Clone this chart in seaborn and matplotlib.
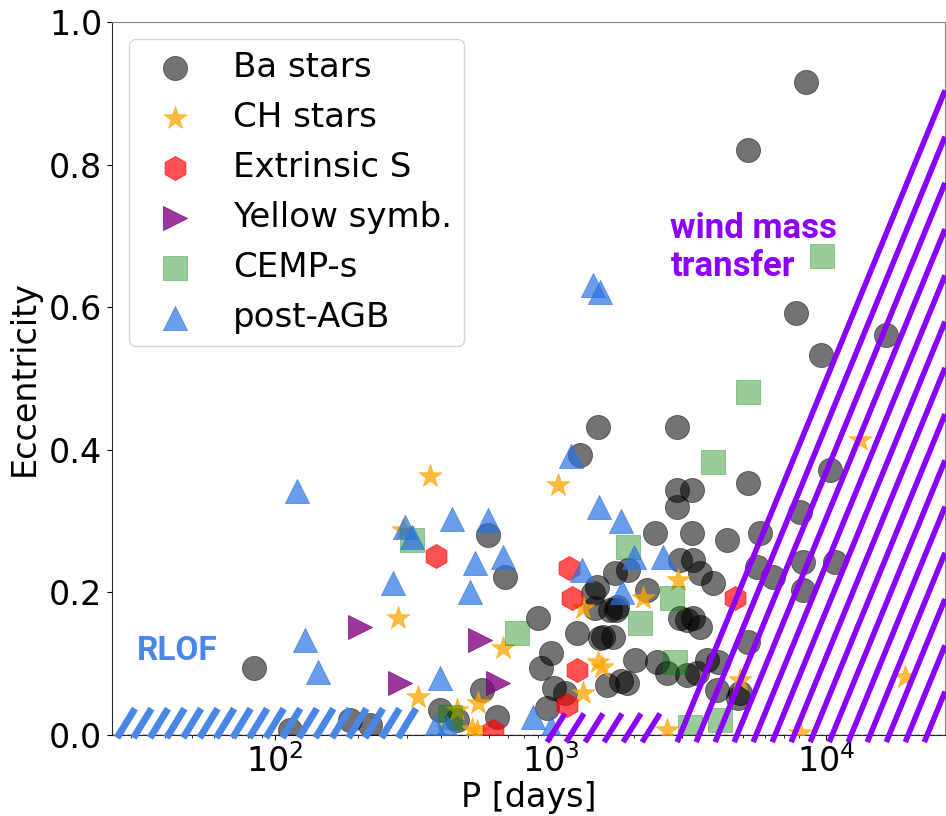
import numpy as np
import pandas as pd
import matplotlib
matplotlib.use("Agg")
import matplotlib.pyplot as plt
import seaborn as sns

# --- data: orbital period [days] and eccentricity ---
ba_P = [84, 113, 187, 221, 397, 458, 563, 593, 640, 685, 902, 920, 1000, 970, 1030,
        1130, 1250, 1280, 1430, 1470, 1486, 1514, 1550, 1690, 1640, 1730, 1600, 1800,
        1900, 1450, 1740, 1715, 1910, 2030, 2240, 2390, 2430, 2650, 3130, 2880, 2880,
        3270, 2880, 3270, 2950, 3280, 2950, 3280, 3130, 3490, 3490, 3890, 3400, 3700,
        4030, 4880, 4790, 4050, 4370, 5750, 5610, 6430, 5200, 5200, 8050, 8250, 10800,
        8250, 10360, 9600, 16500, 7780, 5210, 8450]
ba_e = [0.094, 0.007, 0.021, 0.014, 0.035, 0.021, 0.063, 0.280, 0.025, 0.222, 0.164,
        0.094, 0.115, 0.038, 0.066, 0.059, 0.143, 0.393, 0.199, 0.208, 0.432, 0.136,
        0.137, 0.137, 0.175, 0.175, 0.070, 0.075, 0.073, 0.178, 0.180, 0.227, 0.231,
        0.105, 0.203, 0.283, 0.102, 0.087, 0.084, 0.432, 0.344, 0.344, 0.320, 0.283,
        0.245, 0.245, 0.164, 0.164, 0.161, 0.151, 0.227, 0.213, 0.087, 0.105, 0.063,
        0.059, 0.052, 0.102, 0.274, 0.283, 0.236, 0.222, 0.353, 0.130, 0.313, 0.243,
        0.243, 0.203, 0.372, 0.533, 0.561, 0.592, 0.820, 0.916]

ch_P = [279, 292, 330, 366, 458, 546, 673, 1060, 1310, 1310, 1490, 1530, 2170, 2900,
        4880, 13300, 19400, 8050, 2650, 520, 540]
ch_e = [0.164, 0.288, 0.053, 0.363, 0.035, 0.045, 0.122, 0.350, 0.178, 0.059, 0.102,
        0.096, 0.192, 0.217, 0.077, 0.414, 0.081, 0.003, 0.007, 0.008, 0.006]

exs_P = [384, 1170, 1200, 1250, 1150, 4680, 620]
exs_e = [0.251, 0.234, 0.192, 0.091, 0.042, 0.192, 0.005]

ys_P = [204, 284, 555, 644]
ys_e = [0.151, 0.073, 0.133, 0.073]

cemp_P = [9660, 5210, 3890, 314, 1910, 755, 2110, 2760, 2830, 432, 3210, 4120]
cemp_e = [0.672, 0.481, 0.383, 0.273, 0.264, 0.143, 0.157, 0.192, 0.102, 0.025, 0.011, 0.021]

pagb_P = [120, 1425, 1510, 1185, 297, 314, 439, 593, 268, 530, 673, 511, 128, 143, 397,
          1800, 1500, 2000, 2560, 1300, 1820, 865, 380, 420, 1000]
pagb_e = [0.342, 0.631, 0.621, 0.391, 0.292, 0.278, 0.303, 0.302, 0.213, 0.241, 0.250,
          0.200, 0.133, 0.088, 0.080, 0.300, 0.320, 0.250, 0.250, 0.231, 0.200, 0.025,
          0.011, 0.011, 0.010]

groups = [
    ("Ba stars", ba_P, ba_e, "o", "k", 0.55),
    ("CH stars", ch_P, ch_e, "*", "orange", 0.75),
    ("Extrinsic S", exs_P, exs_e, "h", "red", 0.68),
    ("Yellow symb.", ys_P, ys_e, ">", "purple", 0.78),
    ("CEMP-s", cemp_P, cemp_e, "s", "green", 0.4),
    ("post-AGB", pagb_P, pagb_e, "^", "#2a72e0", 0.7),
]

# regions (log10 P ranges) for the hatched zones
RLOF_LOG = (1.4265, 2.45)
WIND_SHORT_LOG = (2.987, 3.40)
WIND_LONG_LOG = (3.459, 4.36)
XLIM = (25.6, 27000)

PURPLE = "#8B00FF"
BLUE = "#4a86e8"

sns.set_style("ticks", rc={"text.color": "black", "axes.labelcolor": "black",
                           "xtick.color": "black", "ytick.color": "black"})
plt.rcParams["font.family"] = ["DejaVu Sans"]

fig = plt.figure(figsize=(9.46, 8.16), dpi=100)
ax = fig.add_axes([0.1184, 0.0993, 0.8806, 0.8738])

for label, P, e, marker, color, alpha in groups:
    df = pd.DataFrame({"P": P, "e": e})
    sns.scatterplot(data=df, x="P", y="e", marker=marker, color=color, alpha=alpha,
                    s=300, linewidth=0.6, edgecolor=color, label=label, ax=ax, zorder=3)

ax.set_xscale("log")
ax.set_xlim(*XLIM)
ax.set_ylim(0, 1.0)

# dashed zero line
ax.axhline(0, color="k", ls="--", lw=1, zorder=4)

# RLOF stripes
for l in np.arange(RLOF_LOG[0], RLOF_LOG[1], 0.06):
    ax.plot([10 ** l, 10 ** (l + 0.065)], [-0.004, 0.037], color=BLUE, lw=5,
            solid_capstyle="butt", clip_on=False, zorder=5)

# wind mass transfer stripes
for l in np.arange(WIND_SHORT_LOG[0], WIND_SHORT_LOG[1], 0.069):
    ax.plot([10 ** l, 10 ** (l + 0.065)], [-0.01, 0.03], color=PURPLE, lw=4,
            solid_capstyle="butt", clip_on=False, zorder=5)
xmax_log = np.log10(XLIM[1])
for l in np.arange(WIND_LONG_LOG[0], WIND_LONG_LOG[1], 0.069):
    ax.plot([10 ** l, XLIM[1]], [-0.01, -0.01 + 0.94 * (xmax_log - l)], color=PURPLE,
            lw=4, solid_capstyle="butt", clip_on=False, zorder=5)

ax.text(31.6, 0.118, "RLOF", color=BLUE, fontsize=24, fontweight="bold",
        family="Roboto", ha="left", va="center")
ax.text(2720, 0.684, "wind mass\ntransfer", color=PURPLE, fontsize=25, fontweight="bold",
        family="Roboto", ha="left", va="center", linespacing=1.2)

ax.set_xlabel("P [days]", fontsize=24, labelpad=1)
ax.set_ylabel("Eccentricity", fontsize=24, labelpad=6)
ax.tick_params(axis="both", labelsize=24, colors="black")
ax.set_yticks([0, 0.2, 0.4, 0.6, 0.8, 1.0])
for side in ["top", "right"]:
    ax.spines[side].set_color("#808080")

ax.legend(loc="upper left", fontsize=24.5, labelspacing=0.5, handletextpad=0.7,
          borderpad=0.35, frameon=True)

fig.savefig("out.png", dpi=100)
